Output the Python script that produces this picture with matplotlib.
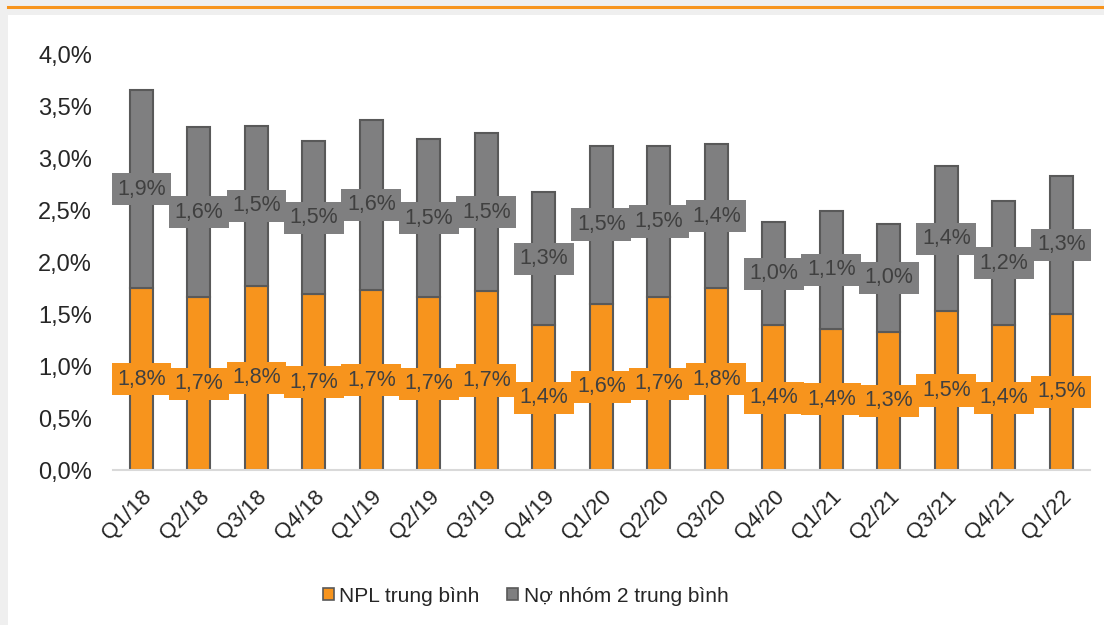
import matplotlib
matplotlib.use("Agg")
import matplotlib.pyplot as plt
from matplotlib.patches import Rectangle, Patch
from matplotlib.lines import Line2D
import numpy as np

matplotlib.rcParams["font.family"] = ["Liberation Sans", "DejaVu Sans"]

# data (% of loans)
quarters = ["Q1/18", "Q2/18", "Q3/18", "Q4/18", "Q1/19", "Q2/19", "Q3/19", "Q4/19",
            "Q1/20", "Q2/20", "Q3/20", "Q4/20", "Q1/21", "Q2/21", "Q3/21", "Q4/21", "Q1/22"]
npl = [1.75, 1.66, 1.77, 1.69, 1.73, 1.66, 1.72, 1.39, 1.60, 1.66, 1.75,
       1.39, 1.36, 1.33, 1.53, 1.39, 1.50]
group2 = [1.90, 1.64, 1.54, 1.47, 1.64, 1.52, 1.52, 1.28, 1.52, 1.46, 1.38,
          0.99, 1.13, 1.04, 1.39, 1.20, 1.33]
yticks = [0, 0.5, 1.0, 1.5, 2.0, 2.5, 3.0, 3.5, 4.0]

orange = "#F7941D"
grey = "#7F7F80"
edge = "#595959"
txt = "#404040"

fig = plt.figure(figsize=(11.04, 6.25), dpi=100, facecolor="#efefef")
# white panel + orange rule on top
fig.patches.append(Rectangle((8 / 1104, 0), 1, 1 - 15 / 625, transform=fig.transFigure,
                             facecolor="white", edgecolor="none", zorder=-5))
fig.lines.append(Line2D([8 / 1104, 1], [1 - 7 / 625, 1 - 7 / 625], transform=fig.transFigure,
                        color="#F7941D", linewidth=2.2, zorder=-4))

ax = fig.add_axes([0.1021, 0.248, 0.8852, 0.6656])
ax.set_facecolor("none")

x = np.arange(len(quarters))
ax.bar(x, npl, width=0.4, color=orange, edgecolor=edge, linewidth=1.5, zorder=2)
ax.bar(x, group2, width=0.4, bottom=npl, color=grey, edgecolor=edge, linewidth=1.5, zorder=2)

# value labels in boxes, centred in each segment
for i in range(len(quarters)):
    ax.text(x[i], npl[i] / 2, f"{npl[i]:.1f}%".replace(".", ","), ha="center", va="center",
            fontsize=15.5, color=txt, zorder=3,
            bbox=dict(boxstyle="square,pad=0.26", facecolor=orange, edgecolor="none"))
    ax.text(x[i], npl[i] + group2[i] / 2, f"{group2[i]:.1f}%".replace(".", ","), ha="center",
            va="center", fontsize=15.5, color=txt, zorder=3,
            bbox=dict(boxstyle="square,pad=0.26", facecolor=grey, edgecolor="none"))

ax.set_xlim(-0.5, 16.5)
ax.set_ylim(0, 4.0)
ax.set_yticks(yticks)
ax.set_yticklabels([f"{v:.1f}%".replace(".", ",") for v in yticks], fontsize=17, color="#262626")
ax.set_xticks(x)
ax.set_xticklabels(quarters, rotation=45, ha="right", rotation_mode="anchor",
                   fontsize=16, color="#262626")
ax.tick_params(axis="y", length=0, pad=15)
ax.tick_params(axis="x", length=0, pad=12)

for s in ["top", "right", "left"]:
    ax.spines[s].set_visible(False)
ax.spines["bottom"].set_color("#d9d9d9")
ax.spines["bottom"].set_linewidth(1.5)

handles = [Patch(facecolor=orange, edgecolor=edge, linewidth=1.2, label="NPL trung bình"),
           Patch(facecolor=grey, edgecolor=edge, linewidth=1.2, label="Nợ nhóm 2 trung bình")]
fig.legend(handles=handles, loc="center", bbox_to_anchor=(0.476, 1 - 596 / 625), ncol=2,
           frameon=False, fontsize=15, handlelength=0.55, handleheight=0.55,
           handletextpad=0.25, columnspacing=1.3, labelcolor="#262626")

fig.savefig("out.png", dpi=100, facecolor=fig.get_facecolor())
